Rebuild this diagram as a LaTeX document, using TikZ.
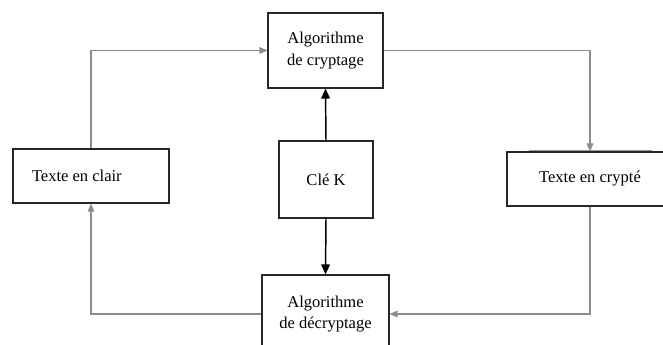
\documentclass[tikz,border=0pt]{standalone}
\usepackage{fontspec}
\setmainfont{Liberation Serif}
\usetikzlibrary{arrows.meta}
\tikzset{
  boite/.style={draw=black!85, line width=0.8pt, fill=white, align=center, inner sep=0pt,
    font=\rmfamily\fontsize{12.4}{16}\selectfont},
  fleche/.style={draw=black!45, line width=0.8pt, -{Triangle[length=6pt,width=5pt]}},
  flechecle/.style={draw=black, line width=1.1pt, -{Triangle[length=7.5pt,width=6.5pt]}}
}

\begin{document}
\begin{tikzpicture}[x=0.75pt,y=-0.75pt]
\clip (0,0) rectangle (663,345);
% boites
\node[boite, minimum width=86.25pt, minimum height=56.25pt] (chiffr) at (325.5,50.5) {Algorithme\\de cryptage};
\node[boite, minimum width=70.5pt, minimum height=57.75pt] (cle) at (326,179.5) {Clé K};
\node[boite, minimum width=95.25pt, minimum height=58.5pt] (dechiffr) at (325.5,314) {Algorithme\\de décryptage};
\node[boite, align=flush left, inner xsep=14.25pt, text width=88.5pt, minimum height=40.5pt] (clair) at (91,176) {Texte en clair};
\draw[black!40, line width=0.6pt] (529,150) -- (652,150);
\node[boite, minimum width=124.5pt, minimum height=40.5pt] (crypte) at (590,179) {Texte en crypté};
% liaisons
\draw[fleche] (clair.north) |- (chiffr.west);
\draw[fleche] (chiffr.east) -| (crypte.north);
\draw[fleche] (crypte.south) |- (dechiffr.east);
\draw[fleche] (dechiffr.west) -| (clair.south);
\draw[flechecle] (cle.north) -- (chiffr.south);
\draw[flechecle] (cle.south) -- (dechiffr.north);
\end{tikzpicture}
\end{document}
